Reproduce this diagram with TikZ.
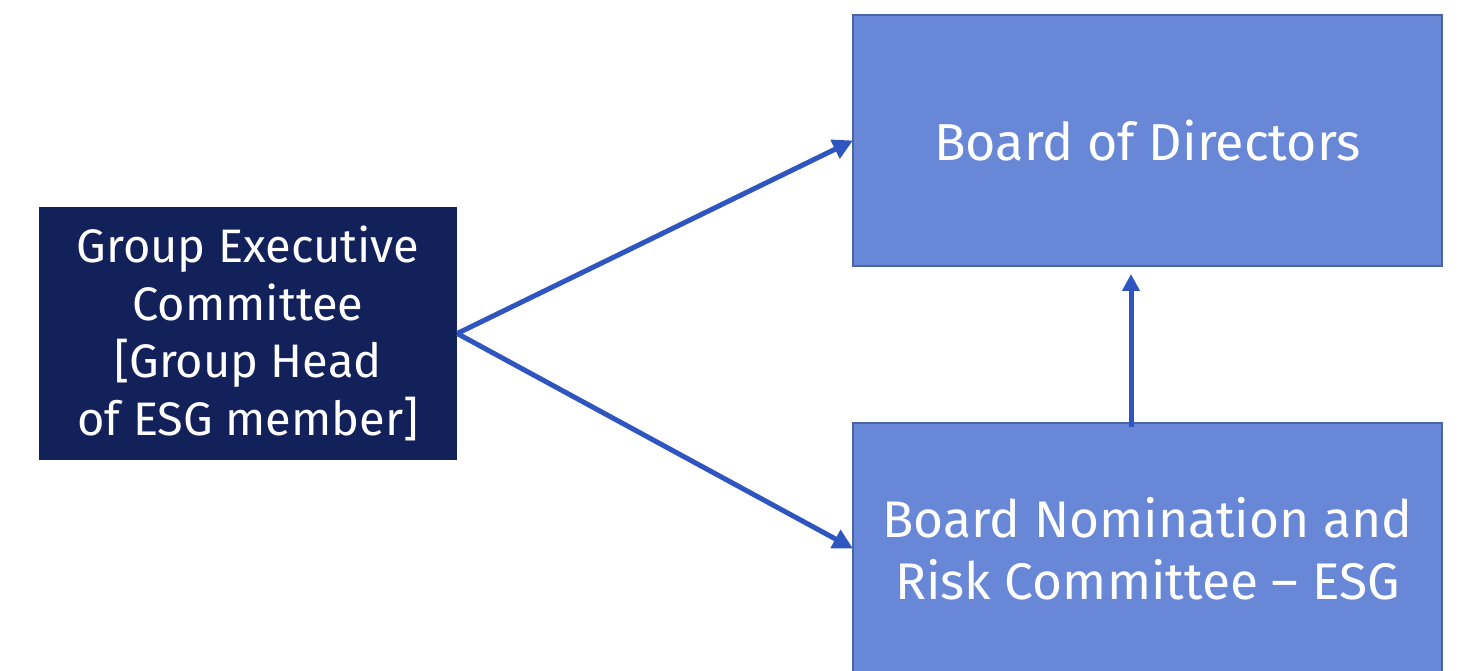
\documentclass[tikz,border=0pt]{standalone}
\usepackage{fontspec}
\setmainfont{Fira Sans}
\usetikzlibrary{arrows.meta}
\definecolor{navy}{HTML}{13215B}
\definecolor{boxblue}{HTML}{6888D7}
\definecolor{boxedge}{HTML}{4A64A8}
\definecolor{arrowblue}{HTML}{2F55C0}
\tikzset{
  darkbox/.style={fill=navy, draw=none, text=white, minimum width=418pt, minimum height=253pt, inner sep=0pt, align=center, font=\fontsize{47}{57.5}\selectfont},
  bluebox/.style={fill=boxblue, draw=boxedge, line width=2pt, text=white, minimum width=589pt, minimum height=251pt, inner sep=0pt, align=center},
  conn/.style={draw=arrowblue, line width=5pt, -{Triangle[length=20pt,width=20pt]}},
}
\begin{document}
\begin{tikzpicture}[x=1pt,y=1pt]
\useasboundingbox (0,0) rectangle (1460,-671);
\clip (0,0) rectangle (1460,-671);
\node[darkbox] (g) at (248,-333.5) {Group Executive\\Committee\\{[}Group Head\\of ESG member{]}};
\node[bluebox, font=\fontsize{52}{62}\selectfont] (bod) at (1147.5,-140.5) {Board of Directors};
\node[bluebox, font=\fontsize{51.5}{62}\selectfont] (nom) at (1147.5,-548.5) {Board Nomination and\\Risk Committee -- ESG};
\draw[conn] (g.east) -- ([xshift=1pt]bod.west);
\draw[conn] (g.east) -- ([xshift=1pt]nom.west);
\draw[conn, -{Triangle[length=17pt,width=17pt]}, shorten <=-5pt, shorten >=7pt] ([xshift=-16.5pt]nom.north) -- ([xshift=-16.5pt]bod.south);
\end{tikzpicture}
\end{document}
